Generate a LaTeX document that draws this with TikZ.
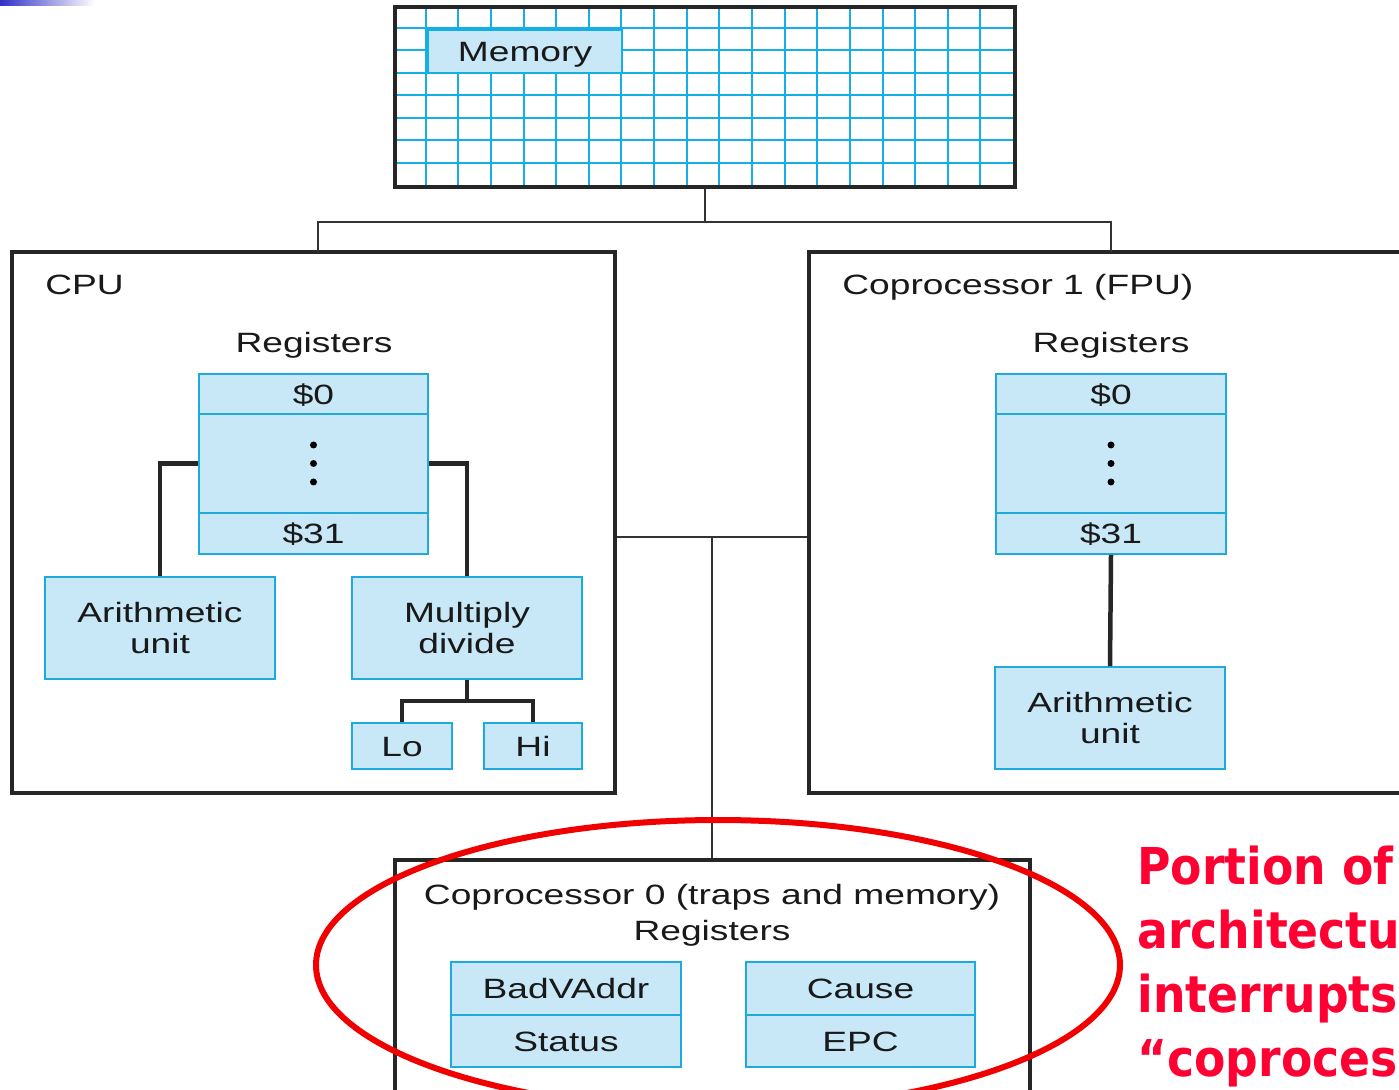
\documentclass[tikz,border=0pt]{standalone}
\usepackage{fontspec}
\usepackage{tikz}
\usetikzlibrary{shapes,arrows,calc,positioning,backgrounds}
\newfontfamily\figfont[FakeStretch=1.33]{Liberation Sans}
\newfontfamily\notefont[FakeStretch=0.9]{DejaVu Sans}
\definecolor{regfill}{RGB}{200,232,248}
\definecolor{regline}{RGB}{30,170,220}
\definecolor{gridcol}{RGB}{20,175,230}
\definecolor{markred}{RGB}{240,0,0}
\definecolor{notered}{RGB}{255,0,51}
\definecolor{barblue}{RGB}{48,48,200}
\tikzstyle{frame} = [draw=black!85, rectangle, line width=0.08cm, inner sep=0pt]
\tikzstyle{regbox} = [draw=regline, fill=regfill, rectangle, line width=0.04cm, inner sep=0pt, text centered, minimum width=4.6cm]
\tikzstyle{figtext} = [inner sep=0pt, text centered]
\tikzstyle{oneline} = [text height=0.4cm, text depth=0pt]
\tikzstyle{wire} = [draw=black!85, line width=0.09cm]
\tikzstyle{bus} = [draw=black!80, line width=0.035cm]
\tikzstyle{gridline} = [draw=gridcol, line width=0.04cm]
\tikzstyle{note} = [text=notered, anchor=base west, inner sep=0pt, font=\notefont\bfseries\fontsize{28.9}{36}\selectfont]

\begin{document}
\begin{tikzpicture}[x=0.02cm, y=-0.02cm, font=\figfont\fontsize{15.9}{17.6}\selectfont, text=black!90]
        \useasboundingbox (0,0) rectangle (1399,1089);
        \begin{pgfonlayer}{background}
            \fill[white] (0,0) rectangle (1399,1089);
        \end{pgfonlayer}
        \clip (0,0) rectangle (1399,1089);
        \shade[left color=barblue, right color=white] (0,0) rectangle (95,5);

        \node[frame, minimum width=12.4cm, minimum height=3.6cm] (mem) at (705,97) {};
        \begin{pgfonlayer}{background}
            \foreach \i in {1,...,18}
                \draw[gridline] ($(mem.north west)+(\i*32.63,0)$) -- ($(mem.south west)+(\i*32.63,0)$);
            \foreach \j in {1,...,7}
                \draw[gridline] ($(mem.north west)+(0,\j*22.5)$) -- ($(mem.north east)+(0,\j*22.5)$);
        \end{pgfonlayer}
        \node[regbox, oneline, draw=gridcol, minimum width=3.88cm, minimum height=0.86cm] (memname) at (525,51.5) {Memory};

        \node[frame, minimum width=12.06cm, minimum height=10.82cm] (cpu) at (313.5,522.5) {};
        \node[frame, minimum width=12.22cm, minimum height=10.82cm] (fpu) at (1114.5,522.5) {};
        \node[frame, minimum width=12.7cm, minimum height=4.8cm] (cp0) at (712.5,980) {};

        \node[figtext, oneline, anchor=west] (cputitle) at (45,284) {CPU};
        \node[figtext, oneline] (cpureg) at (314,342) {Registers};
        \node[regbox, oneline, minimum height=0.8cm] (cr0) at (313.5,394) {\$0};
        \node[regbox, minimum height=1.98cm, below of=cr0, node distance=1.39cm] (crdots) {};
        \node[regbox, oneline, minimum height=0.82cm, below of=crdots, node distance=1.4cm] (cr31) {\$31};
        \node[regbox, minimum height=2.04cm, align=center] (calu) at (160,628) {Arithmetic\\unit};
        \node[regbox, minimum height=2.04cm, align=center] (muldiv) at (467,628) {Multiply\\divide};
        \node[regbox, oneline, minimum width=2cm, minimum height=0.92cm] (lo) at (402,746) {Lo};
        \node[regbox, oneline, minimum width=1.96cm, minimum height=0.92cm] (hi) at (533,746) {Hi};

        \node[figtext, oneline, anchor=west] (fputitle) at (842,284) {Coprocessor 1 (FPU)};
        \node[figtext, oneline] (fpureg) at (1111,342) {Registers};
        \node[regbox, oneline, minimum height=0.8cm] (fr0) at (1111,394) {\$0};
        \node[regbox, minimum height=1.98cm, below of=fr0, node distance=1.39cm] (frdots) {};
        \node[regbox, oneline, minimum height=0.82cm, below of=frdots, node distance=1.4cm] (fr31) {\$31};
        \node[regbox, minimum height=2.04cm, align=center] (falu) at (1110,718) {Arithmetic\\unit};

        \node[figtext, oneline] (cp0title) at (712,894) {Coprocessor 0 (traps and memory)};
        \node[figtext, oneline] (cp0reg) at (712,930) {Registers};
        \node[regbox, oneline, minimum height=1.06cm] (badv) at (566,988.5) {BadVAddr};
        \node[regbox, oneline, minimum height=1.04cm] (status) at (566,1041) {Status};
        \node[regbox, oneline, minimum height=1.06cm] (cause) at (860.5,988.5) {Cause};
        \node[regbox, oneline, minimum height=1.04cm] (epc) at (860.5,1041) {EPC};

        \foreach \d in {-18.5,0,18.5} {
            \fill (crdots.center) ++(0,\d) circle (3.5);
            \fill (frdots.center) ++(0,\d) circle (3.5);
        }

        \coordinate (split) at (705,222);
        \coordinate (cpuin) at (318,252);
        \coordinate (fpuin) at (1111,252);
        \coordinate (midbus) at (712,537);
        \coordinate (mdsplit) at (467,701);
        \path[bus] (mem.south) -- (split);
        \path[bus] (cpuin) |- (split) -| (fpuin);
        \path[bus] (cpu.east |- midbus) -- (fpu.west |- midbus);
        \path[bus] (midbus) -- (cp0.north -| midbus);
        \path[wire] (crdots.west) -| (calu.north);
        \path[wire] (crdots.east) -| (muldiv.north);
        \path[wire] (muldiv.south) -- (mdsplit);
        \path[wire] (lo.north) |- (mdsplit) -| (hi.north);
        \path[wire] (fr31.south) -- (falu.north);

        \draw[markred, line width=0.12cm] (718,965) ellipse [x radius=402, y radius=145];
        \node[note] (note1) at (1137,884) {Portion of};
        \node[note] (note2) at (1137,948) {architectu};
        \node[note] (note3) at (1137,1012) {interrupts};
        \node[note] (note4) at (1137,1076) {“coproces};
    \end{tikzpicture}
\end{document}
